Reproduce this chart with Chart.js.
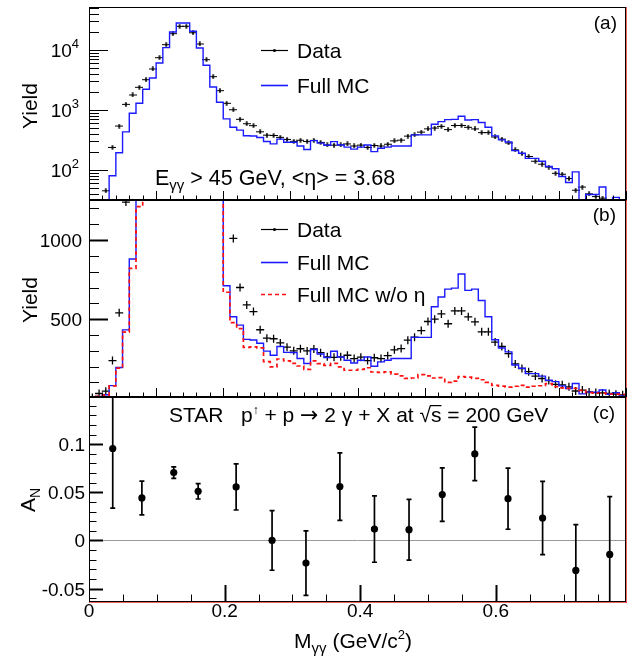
<!DOCTYPE html>
<html>
<head>
<meta charset="utf-8">
<title>STAR diphoton yield and A_N</title>
<script src="https://cdn.jsdelivr.net/npm/chart.js@4.4.1/dist/chart.umd.min.js"></script>
<style>
  html, body { margin: 0; padding: 0; background: #fff; }
  #wrap { position: relative; width: 644px; height: 658px; overflow: hidden; }
  #wrap canvas { position: absolute; left: 0; }
</style>
</head>
<body>
<div id="wrap">
  <canvas id="panelA" width="644" height="210" style="top:0px"></canvas>
  <canvas id="panelB" width="644" height="217" style="top:190px"></canvas>
  <canvas id="panelC" width="644" height="271" style="top:387px"></canvas>
</div>
<script>
// histogram binning: 80 bins of 0.01 GeV/c^2
const binWidth = 0.01;
const binLowEdges = Array.from({ length: 80 }, (_, i) => +(i * binWidth).toFixed(2));

// yield per bin (a) and (b)
const dataYield = [
  5, 30, 45, 238, 540, 1240, 1780, 2390, 3200, 4820,
  7450, 12250, 18700, 24800, 24800, 19400, 12600, 6890, 3590, 2100,
  1294, 1010, 700, 590, 548, 433, 380, 376, 350, 323,
  300, 313, 299, 312, 288, 262, 259, 262, 272, 251,
  260, 238, 256, 251, 269, 306, 314, 367, 386, 428,
  485, 500, 533, 471, 552, 552, 515, 483, 420, 420,
  355, 327, 282, 217, 188, 168, 140, 125, 112, 88,
  85, 72, 46, 52, 40, 36, 34, 30, 26, 22
];
const mcFull = [
  8, 12, 22, 80, 194, 432, 880, 1294, 2213, 3415,
  6070, 10930, 19950, 28180, 28180, 20500, 10800, 5560, 2416, 1343,
  711, 515, 462, 372, 368, 348, 298, 272, 327, 290,
  289, 251, 220, 308, 280, 258, 297, 261, 240, 223,
  240, 261, 202, 230, 240, 251, 251, 251, 385, 385,
  385, 578, 640, 690, 696, 785, 682, 690, 618, 515,
  370, 318, 293, 210, 190, 156, 156, 140, 114, 105,
  78, 62, 93, 28, 39, 39, 52, 25, 35, 15
];
const mcNoEta = [
  8, 12, 20, 78, 190, 418, 821, 1211, 2100, 3300,
  5900, 10600, 19400, 27400, 27400, 19900, 10500, 5400, 2340, 1300,
  670, 478, 440, 322, 325, 318, 232, 198, 248, 236,
  220, 204, 182, 236, 219, 208, 220, 198, 177, 177,
  182, 193, 166, 163, 167, 152, 142, 126, 128, 150,
  142, 128, 130, 100, 108, 137, 133, 126, 117, 100,
  82, 77, 71, 76, 82, 70, 76, 79, 92, 73,
  66, 62, 62, 50, 36, 32, 33, 27, 26, 25
];

// panel (c): A_N points
const anMass = [0.035, 0.078, 0.125, 0.161, 0.217, 0.27, 0.32, 0.37, 0.421, 0.472, 0.521, 0.569, 0.618, 0.669, 0.718, 0.768];
const anValue = [0.0955, 0.0441, 0.0705, 0.051, 0.0556, 0.0, -0.0236, 0.0559, 0.0118, 0.0111, 0.0476, 0.0899, 0.0434, 0.0233, -0.0312, -0.0146];
const anError = [0.062, 0.0175, 0.006, 0.008, 0.024, 0.031, 0.0335, 0.035, 0.0345, 0.0316, 0.0278, 0.0278, 0.0318, 0.038, 0.0475, 0.06];

// tick labels
const yTicksA = [100, 1000, 10000];
const yTickExpA = ['2', '3', '4'];
const yTicksB = [500, 1000];
const yTickLabelsB = ['500', '1000'];
const yTicksC = [-0.05, 0, 0.05, 0.1];
const yTickLabelsC = ['-0.05', '0', '0.05', '0.1'];
const xTicksC = [0, 0.2, 0.4, 0.6];
const xTickLabelsC = ['0', '0.2', '0.4', '0.6'];

const FONT = '"Liberation Sans", Arial, Helvetica, sans-serif';
const SYM_FONT = '"DejaVu Sans", sans-serif';
const BLUE = '#1a1aff';
const RED = '#ff1010';

function histPoints(values) {
  const pts = binLowEdges.map((x, i) => ({ x, y: values[i] }));
  pts.push({ x: binLowEdges[binLowEdges.length - 1] + binWidth, y: values[values.length - 1] });
  return pts;
}
function centerPoints(values) {
  return binLowEdges.map((x, i) => ({ x: x + binWidth / 2, y: values[i] }));
}

function makeMarker(w, h, dot) {
  const c = document.createElement('canvas');
  c.width = w; c.height = h;
  const g = c.getContext('2d');
  g.strokeStyle = '#000'; g.lineWidth = 1.2;
  g.beginPath();
  g.moveTo(0, h / 2); g.lineTo(w, h / 2);
  g.moveTo(w / 2, 0); g.lineTo(w / 2, h);
  g.stroke();
  if (dot) {
    g.fillStyle = '#000';
    g.beginPath(); g.arc(w / 2, h / 2, dot, 0, Math.PI * 2); g.fill();
  }
  return c;
}
const markA = makeMarker(8, 5, 1.3);

// text with sub/superscripts
function rich(ctx, x, y, parts, align) {
  const fontOf = p => p.s + 'px ' + (p.f || FONT);
  let w = 0;
  parts.forEach(p => { ctx.font = fontOf(p); w += ctx.measureText(p.t).width; });
  let cx = align === 'right' ? x - w : align === 'center' ? x - w / 2 : x;
  ctx.textAlign = 'left';
  ctx.textBaseline = 'alphabetic';
  parts.forEach(p => {
    ctx.font = fontOf(p);
    const pw = ctx.measureText(p.t).width;
    ctx.fillText(p.t, cx, y + (p.dy || 0));
    if (p.over) {
      ctx.save();
      ctx.lineWidth = 1.2;
      ctx.beginPath();
      ctx.moveTo(cx - 1, y - p.s * 0.78); ctx.lineTo(cx + pw, y - p.s * 0.78);
      ctx.stroke();
      ctx.restore();
    }
    cx += pw;
  });
}
function rotated(ctx, x, y, parts) {
  ctx.save();
  ctx.translate(x, y);
  ctx.rotate(-Math.PI / 2);
  rich(ctx, 0, 7, parts, 'center');
  ctx.restore();
}

function drawFrame(ctx, a) {
  ctx.save();
  ctx.lineWidth = 1;
  ctx.strokeStyle = '#000';
  ctx.strokeRect(a.left + 0.5, a.top + 0.5, a.right - a.left - 1, a.bottom - a.top - 1);
  ctx.strokeStyle = 'rgba(230, 20, 20, 0.65)';
  ctx.beginPath();
  ctx.moveTo(a.left, a.bottom + 0.5); ctx.lineTo(a.right + 1, a.bottom + 0.5);
  ctx.moveTo(a.right + 0.5, a.top); ctx.lineTo(a.right + 0.5, a.bottom + 1);
  ctx.stroke();
  ctx.restore();
}
function yTick(ctx, x, y, len, lw) {
  const yy = Math.round(y) + 0.5;
  ctx.lineWidth = lw || 1;
  ctx.beginPath(); ctx.moveTo(x, yy); ctx.lineTo(x + len, yy); ctx.stroke();
}
function xTicksInward(ctx, xs, a, step, majorEvery, minorLen, majorLen, majorWidth) {
  const n = Math.floor(xs.max / step + 1e-6);
  for (let k = 1; k <= n; k++) {
    const x = Math.round(xs.getPixelForValue(k * step)) + 0.5;
    const major = k % majorEvery === 0;
    ctx.lineWidth = major ? majorWidth : 1;
    ctx.beginPath();
    ctx.moveTo(x, a.bottom); ctx.lineTo(x, a.bottom - (major ? majorLen : minorLen));
    ctx.stroke();
  }
}
function legendData(ctx, y) {
  ctx.lineWidth = 1.2;
  ctx.strokeStyle = '#000';
  ctx.beginPath(); ctx.moveTo(261, y + 0.5); ctx.lineTo(288, y + 0.5); ctx.stroke();
  ctx.fillStyle = '#000';
  ctx.beginPath(); ctx.arc(274.5, y + 0.5, 1.6, 0, Math.PI * 2); ctx.fill();
}
function legendLine(ctx, y, color, dash) {
  ctx.save();
  ctx.strokeStyle = color; ctx.lineWidth = 1.6;
  ctx.setLineDash(dash);
  ctx.beginPath(); ctx.moveTo(261, y + 0.5); ctx.lineTo(288, y + 0.5); ctx.stroke();
  ctx.restore();
}
function legendText(ctx, text, y) {
  ctx.fillStyle = '#000';
  rich(ctx, 297, y + 8, [{ t: text, s: 21 }]);
}

const drawA = {
  id: 'drawA',
  afterDraw(chart) {
    const { ctx, chartArea: a } = chart;
    const xs = chart.scales.x, ys = chart.scales.y;
    drawFrame(ctx, a);
    ctx.save();
    ctx.strokeStyle = '#000'; ctx.fillStyle = '#000';
    for (let d = 1; d <= 4; d++) {
      for (let m = 1; m <= 9; m++) {
        const v = m * Math.pow(10, d);
        if (v < ys.min || v > ys.max) continue;
        yTick(ctx, a.left, ys.getPixelForValue(v), m === 1 ? 19 : 10, 1);
      }
    }
    yTicksA.forEach((v, i) => {
      const y = ys.getPixelForValue(v);
      rich(ctx, 79, y + 7, [{ t: '10', s: 19 }, { t: yTickExpA[i], s: 13, dy: -9 }], 'right');
    });
    xTicksInward(ctx, xs, a, 0.02, 5, 4.5, 9, 1);
    rotated(ctx, 30, 106, [{ t: 'Yield', s: 21 }]);
    legendData(ctx, 50);
    legendText(ctx, 'Data', 50);
    legendLine(ctx, 85, BLUE, []);
    legendText(ctx, 'Full MC', 85);
    rich(ctx, 155, 185, [{ t: 'E', s: 21.5 }, { t: 'γγ', s: 15, dy: 5 }, { t: ' > 45 GeV, <η> = 3.68', s: 21.5 }]);
    rich(ctx, 617, 29, [{ t: '(a)', s: 19 }], 'right');
    ctx.restore();
  }
};

const OFF_B = 190;
const drawB = {
  id: 'drawB',
  afterDraw(chart) {
    const { ctx, chartArea: a } = chart;
    const xs = chart.scales.x, ys = chart.scales.y;
    drawFrame(ctx, a);
    ctx.save();
    ctx.strokeStyle = '#000'; ctx.fillStyle = '#000';
    for (let v = 100; v <= ys.max; v += 100) {
      const major = v % 500 === 0;
      yTick(ctx, a.left, ys.getPixelForValue(v), major ? 19 : 10, major ? 2 : 1);
    }
    yTicksB.forEach((v, i) => {
      rich(ctx, 82, ys.getPixelForValue(v) + 7, [{ t: yTickLabelsB[i], s: 19 }], 'right');
    });
    xTicksInward(ctx, xs, a, 0.02, 5, 4.5, 9, 1);
    ctx.translate(0, -OFF_B);
    rotated(ctx, 30, 300, [{ t: 'Yield', s: 21 }]);
    legendData(ctx, 229);
    legendText(ctx, 'Data', 229);
    legendLine(ctx, 262, BLUE, []);
    legendText(ctx, 'Full MC', 262);
    legendLine(ctx, 294, RED, [4, 3]);
    legendText(ctx, 'Full MC w/o η', 294);
    rich(ctx, 616, 221, [{ t: '(b)', s: 19 }], 'right');
    ctx.restore();
  }
};

const OFF_C = 387;
const errorBars = {
  id: 'errorBars',
  beforeDatasetsDraw(chart) {
    const { ctx, chartArea: a } = chart;
    const xs = chart.scales.x, ys = chart.scales.y;
    ctx.save();
    ctx.beginPath(); ctx.rect(a.left, a.top, a.right - a.left, a.bottom - a.top); ctx.clip();
    // zero line
    const y0 = Math.round(ys.getPixelForValue(0)) + 0.5;
    ctx.strokeStyle = '#9a9a9a'; ctx.lineWidth = 1;
    ctx.beginPath(); ctx.moveTo(a.left, y0); ctx.lineTo(a.right, y0); ctx.stroke();
    ctx.strokeStyle = '#000'; ctx.lineWidth = 1.7;
    anMass.forEach((m, i) => {
      const px = xs.getPixelForValue(m);
      const yt = ys.getPixelForValue(anValue[i] + anError[i]);
      const yb = ys.getPixelForValue(anValue[i] - anError[i]);
      ctx.beginPath();
      ctx.moveTo(px, yt); ctx.lineTo(px, yb);
      ctx.moveTo(px - 2.5, yt); ctx.lineTo(px + 2.5, yt);
      ctx.moveTo(px - 2.5, yb); ctx.lineTo(px + 2.5, yb);
      ctx.stroke();
    });
    ctx.restore();
  }
};
const drawC = {
  id: 'drawC',
  afterDraw(chart) {
    const { ctx, chartArea: a } = chart;
    const xs = chart.scales.x, ys = chart.scales.y;
    drawFrame(ctx, a);
    ctx.save();
    ctx.strokeStyle = '#000'; ctx.fillStyle = '#000';
    for (let k = -6; k <= 14; k++) {
      const major = k % 5 === 0;
      yTick(ctx, a.left, ys.getPixelForValue(k * 0.01), major ? 14 : 7.5, major ? 2 : 1);
    }
    yTicksC.forEach((v, i) => {
      rich(ctx, 85, ys.getPixelForValue(v) + 7, [{ t: yTickLabelsC[i], s: 19 }], 'right');
    });
    xTicksInward(ctx, xs, a, 0.05, 4, 7.5, 17, 2);
    xTicksC.forEach((v, i) => {
      rich(ctx, xs.getPixelForValue(v), a.bottom + 15, [{ t: xTickLabelsC[i], s: 19 }], 'center');
    });
    ctx.translate(0, -OFF_C);
    rotated(ctx, 28, 500, [{ t: 'A', s: 21 }, { t: 'N', s: 14, dy: 5 }]);
    rich(ctx, 412, 648, [
      { t: 'M', s: 21 }, { t: 'γγ', s: 15, dy: 5 }, { t: ' (GeV/c', s: 21 },
      { t: '2', s: 13, dy: -9 }, { t: ')', s: 21 }
    ], 'right');
    rich(ctx, 169, 422, [
      { t: 'STAR   p', s: 21 }, { t: '↑', s: 12, dy: -8 },
      { t: ' + p ', s: 21 }, { t: '→', s: 22, f: SYM_FONT }, { t: ' 2 γ + X at ', s: 21 },
      { t: '√', s: 21 }, { t: 's', s: 21, over: true },
      { t: ' = 200 GeV', s: 21 }
    ]);
    rich(ctx, 615, 419, [{ t: '(c)', s: 19 }], 'right');
    ctx.restore();
  }
};

const commonPlugins = { legend: { display: false }, tooltip: { enabled: false } };

new Chart(document.getElementById('panelA'), {
  type: 'scatter',
  data: {
    datasets: [
      { data: histPoints(mcFull), showLine: true, stepped: 'before', borderColor: BLUE, borderWidth: 1.4, pointRadius: 0, clip: 0 },
      { data: centerPoints(dataYield), pointStyle: markA, pointRadius: 3 }
    ]
  },
  options: {
    responsive: false, animation: false, events: [],
    layout: { padding: { left: 89, right: 18, top: 7, bottom: 10 } },
    plugins: commonPlugins,
    scales: {
      x: { type: 'linear', min: 0, max: 0.8, display: false },
      y: { type: 'logarithmic', min: 31.6, max: 52000, display: false }
    }
  },
  plugins: [drawA]
});

new Chart(document.getElementById('panelB'), {
  type: 'scatter',
  data: {
    datasets: [
      { data: histPoints(mcNoEta), showLine: true, stepped: 'before', borderColor: RED, borderWidth: 1.7, borderDash: [4, 3], pointRadius: 0, clip: 0 },
      { data: histPoints(mcFull), showLine: true, stepped: 'before', borderColor: BLUE, borderWidth: 1.4, pointRadius: 0, clip: 0 },
      { data: centerPoints(dataYield), pointStyle: 'cross', pointRadius: 4, pointBorderColor: '#000', pointBorderWidth: 1.3 }
    ]
  },
  options: {
    responsive: false, animation: false, events: [],
    layout: { padding: { left: 89, right: 18, top: 10, bottom: 10 } },
    plugins: commonPlugins,
    scales: {
      x: { type: 'linear', min: 0, max: 0.8, display: false },
      y: { type: 'linear', min: 8, max: 1253, display: false }
    }
  },
  plugins: [drawB]
});

new Chart(document.getElementById('panelC'), {
  type: 'scatter',
  data: {
    datasets: [
      { data: anMass.map((m, i) => ({ x: m, y: anValue[i] })), pointRadius: 3.6, pointBackgroundColor: '#000', pointBorderWidth: 0 }
    ]
  },
  options: {
    responsive: false, animation: false, events: [],
    layout: { padding: { left: 89, right: 18, top: 10, bottom: 56 } },
    plugins: commonPlugins,
    scales: {
      x: { type: 'linear', min: 0, max: 0.792, display: false },
      y: { type: 'linear', min: -0.064, max: 0.149, display: false }
    }
  },
  plugins: [errorBars, drawC]
});
</script>
</body>
</html>
